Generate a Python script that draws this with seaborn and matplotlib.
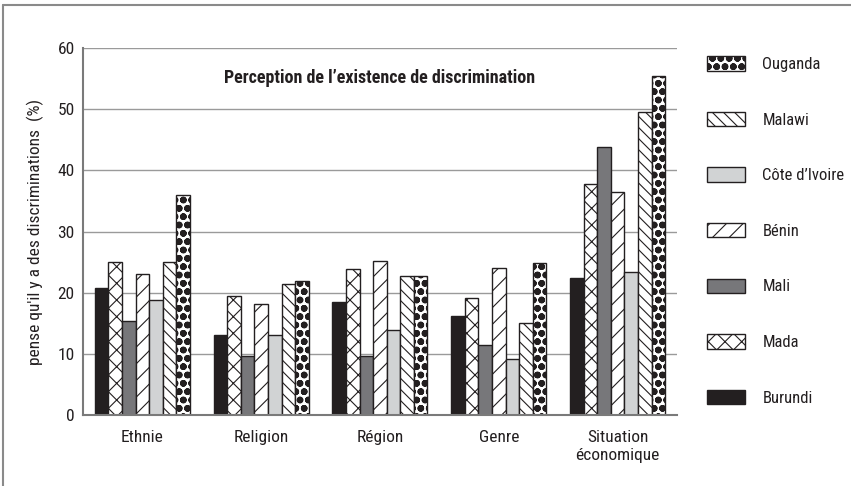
import types
import numpy as np
import pandas as pd
import matplotlib
matplotlib.use("Agg")
import matplotlib.pyplot as plt
import seaborn as sns
from matplotlib.patches import Patch
from matplotlib.lines import Line2D

# donnees (%)
categories = ["Ethnie", "Religion", "Région", "Genre", "Situation\néconomique"]
pays = ["Burundi", "Mada", "Mali", "Bénin", "Côte d’Ivoire", "Malawi", "Ouganda"]

burundi = [20.8, 13.1, 18.5, 16.2, 22.4]
mada = [25.0, 19.4, 23.8, 19.2, 37.7]
mali = [15.4, 9.6, 9.7, 11.5, 43.9]
benin = [23.1, 18.2, 25.2, 24.1, 36.5]
cote_ivoire = [18.8, 13.1, 13.9, 9.2, 23.4]
malawi = [25.1, 21.4, 22.8, 15.1, 49.6]
ouganda = [35.9, 22.0, 22.8, 24.8, 55.5]

valeurs = [burundi, mada, mali, benin, cote_ivoire, malawi, ouganda]

df = pd.DataFrame({
    "categorie": np.tile(categories, len(pays)),
    "pays": np.repeat(pays, len(categories)),
    "valeur": np.concatenate(valeurs),
})

sns.set_style("white")
plt.rcParams["font.family"] = ["Roboto Condensed", "Liberation Sans Narrow",
                               "DejaVu Sans Condensed", "Roboto", "DejaVu Sans"]
plt.rcParams["hatch.linewidth"] = 0.8

noir = "#231f20"
styles = {
    "Burundi": (noir, ""),
    "Mada": ("white", "xx"),
    "Mali": ("#77777a", ""),
    "Bénin": ("white", "//"),
    "Côte d’Ivoire": ("#d1d3d4", ""),
    "Malawi": ("white", "\\\\\\"),
    "Ouganda": ("white", "oo"),
}


def points_epais(artist):
    # hachures en points plus epaisses pour l'Ouganda
    if hasattr(artist, "set_hatch_linewidth"):
        artist.set_hatch_linewidth(2.4)
    orig = artist.draw

    def draw(self, renderer):
        with plt.rc_context({"hatch.linewidth": 2.4}):
            orig(renderer)
    artist.draw = types.MethodType(draw, artist)


fig = plt.figure(figsize=(8.51, 4.86), dpi=100)
ax = fig.add_axes([0.0975, 0.146, 0.698, 0.755])

sns.barplot(data=df, x="categorie", y="valeur", hue="pays", order=categories,
            hue_order=pays, palette=[styles[p][0] for p in pays], saturation=1,
            width=0.8, edgecolor=noir, linewidth=1, legend=False, ax=ax)

for cont, p in zip(ax.containers, pays):
    for bar in cont:
        bar.set_facecolor(styles[p][0])
        bar.set_hatch(styles[p][1])
        if p == "Ouganda":
            points_epais(bar)

ax.set_ylim(0, 60)
ax.set_yticks(range(0, 61, 10))
ax.yaxis.grid(True, color="#9a9a9a", linewidth=1)
ax.set_axisbelow(True)
for s in ["top", "right"]:
    ax.spines[s].set_visible(False)
for s in ["left", "bottom"]:
    ax.spines[s].set_color("#7a7a7a")
    ax.spines[s].set_linewidth(1.5)
ax.tick_params(axis="y", length=0, labelsize=12.5, colors=noir, pad=6)
ax.tick_params(axis="x", length=0, labelsize=12.5, colors=noir, pad=11)
ax.set_xlabel("")
ax.set_ylabel("pense qu'il y a des discriminations  (%)", fontsize=12.5,
              labelpad=10, color=noir)
ax.text(0.5, 0.918, "Perception de l’existence de discrimination",
        transform=ax.transAxes, ha="center", va="center",
        fontsize=13, fontweight="bold", color=noir)

handles = [Patch(facecolor=styles[p][0], edgecolor=noir, hatch=styles[p][1],
                 linewidth=1) for p in reversed(pays)]
leg = fig.legend(handles, list(reversed(pays)), loc="upper left",
                 bbox_to_anchor=(0.8225, 0.898), frameon=False, fontsize=12,
                 handlelength=2.3, handleheight=0.95, labelspacing=2.38,
                 handletextpad=1.05, borderaxespad=0)
for t in leg.get_texts():
    t.set_color(noir)
points_epais(leg.get_patches()[0])

# cadre gris (haut et gauche)
fig.add_artist(Line2D([0.0035, 0.0035], [0, 0.99], transform=fig.transFigure,
                      color="#8a8a8a", linewidth=1.5))
fig.add_artist(Line2D([0.0035, 1], [0.99, 0.99], transform=fig.transFigure,
                      color="#8a8a8a", linewidth=1.5))

fig.savefig("out.png", dpi=100)
